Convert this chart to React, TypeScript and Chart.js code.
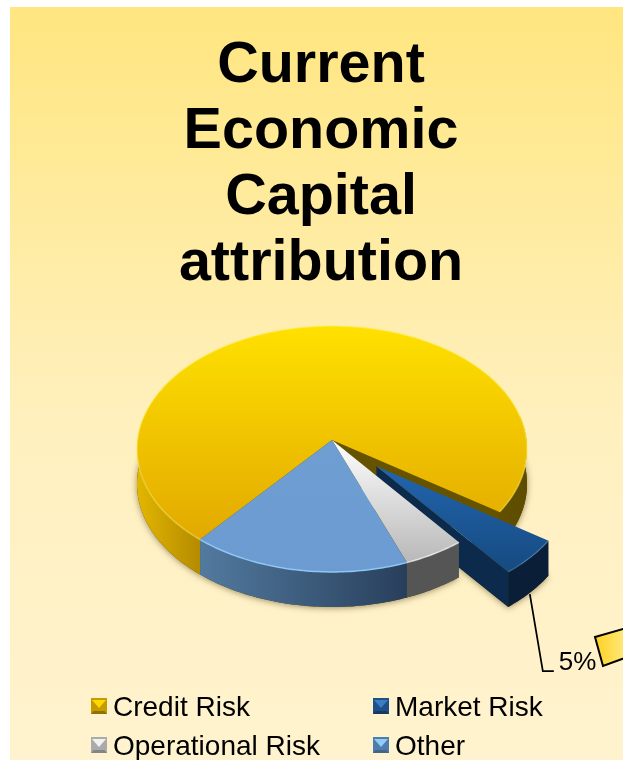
import React, { useEffect, useRef } from "react";
import { Chart, registerables } from "chart.js";

Chart.register(...registerables);

const categories = ["Credit Risk", "Market Risk", "Operational Risk", "Other"];
const shares = [73.5, 4.9, 4.7, 16.9];
const titleLines = ["Current", "Economic", "Capital", "attribution"];
const labelledSlice = 1;

const TILT = 0.6288;
const PERSPECTIVE = 0.073;
const DEPTH = 35;
const PIE_SHIFT_X = 11;

type P = { x: number; y: number };

function projector(el: any) {
  const R = el.outerRadius;
  const cx = el.x + PIE_SHIFT_X;
  const cy = el.y;
  const mid = (el.startAngle + el.endAngle) / 2;
  const off = (el.options.offset || 0) / R;
  const ou = Math.cos(mid) * off;
  const ov = Math.sin(mid) * off;
  return (a: number | null): P => {
    const u = ou + (a === null ? 0 : Math.cos(a));
    const v = ov + (a === null ? 0 : Math.sin(a));
    const w = 1 - PERSPECTIVE * v;
    return { x: cx + (R * u) / w, y: cy + (R * TILT * v) / w };
  };
}

function samples(start: number, end: number) {
  const n = Math.max(2, Math.ceil(((end - start) * 180) / Math.PI));
  const out: number[] = [];
  for (let i = 0; i <= n; i++) out.push(start + ((end - start) * i) / n);
  return out;
}

function poly(ctx: CanvasRenderingContext2D, pts: P[], dy = 0) {
  ctx.beginPath();
  pts.forEach((p, i) => (i ? ctx.lineTo(p.x, p.y + dy) : ctx.moveTo(p.x, p.y + dy)));
  ctx.closePath();
}

function vGrad(ctx: CanvasRenderingContext2D, pts: P[], stops: string[]) {
  const ys = pts.map((p) => p.y);
  const g = ctx.createLinearGradient(0, Math.min(...ys), 0, Math.max(...ys));
  stops.forEach((s, i) => g.addColorStop(i / (stops.length - 1), s));
  return g;
}

function hGrad(ctx: CanvasRenderingContext2D, x0: number, x1: number, stops: [number, string][]) {
  const g = ctx.createLinearGradient(x0, 0, x1, 0);
  stops.forEach(([o, s]) => g.addColorStop(o, s));
  return g;
}

const TOP_STOPS = [
  ["#FFE100", "#E2A900"],
  ["#2265AE", "#164A80"],
  ["#FFFFFF", "#B8B8B8"],
  ["#6E9ED2", "#6B9BD0"],
];
const RIM = ["rgba(255,236,90,0.55)", "rgba(90,150,215,0.4)", "rgba(255,255,255,0.7)", "#8FC6F5"];

function outerWall(ctx: CanvasRenderingContext2D, prj: (a: number | null) => P, angles: number[], fill: any) {
  const runs: number[][] = [];
  let cur: number[] = [];
  angles.forEach((a) => {
    if (Math.sin(a) > -0.2) cur.push(a);
    else {
      if (cur.length > 1) runs.push(cur);
      cur = [];
    }
  });
  if (cur.length > 1) runs.push(cur);
  runs.forEach((vis) => {
    const top = vis.map((a) => prj(a));
    const bot = top.slice().reverse().map((p) => ({ x: p.x, y: p.y + DEPTH }));
    poly(ctx, top.concat(bot));
    ctx.fillStyle = fill;
    ctx.fill();
  });
}

const pie3d = {
  id: "pie3d",
  beforeDraw(chart: any) {
    const { ctx, width, height } = chart;
    const g = ctx.createLinearGradient(0, 7, 0, height);
    g.addColorStop(0, "#FFE680");
    g.addColorStop(0.55, "#FFF0BE");
    g.addColorStop(1, "#FFF3CF");
    ctx.save();
    ctx.fillStyle = "#FFFFFF";
    ctx.fillRect(0, 0, width, height);
    ctx.fillStyle = g;
    ctx.fillRect(10, 7, width - 10, height - 7);
    ctx.restore();
  },
  beforeDatasetDraw(chart: any) {
    const { ctx } = chart;
    const arcs = chart.getDatasetMeta(0).data;
    ctx.save();

    // soft shadow under the extruded body
    ctx.shadowColor = "rgba(60,40,0,0.5)";
    ctx.shadowBlur = 6;
    ctx.shadowOffsetY = 1;
    arcs.forEach((el: any) => {
      const prj = projector(el);
      const pts = [prj(null), ...samples(el.startAngle, el.endAngle).map((a) => prj(a))];
      poly(ctx, pts, DEPTH);
      ctx.fillStyle = "#5a4800";
      ctx.fill();
    });
    ctx.shadowColor = "transparent";
    ctx.shadowBlur = 0;
    ctx.shadowOffsetY = 0;

    const order = [0, 1, 2, 3];
    order.forEach((i) => {
      const el = arcs[i];
      const prj = projector(el);
      const angles = samples(el.startAngle, el.endAngle);
      const apex = prj(null);
      const arcPts = angles.map((a) => prj(a));
      const left = arcPts[arcPts.length - 1];
      const right = arcPts[0];

      if (i === 0) {
        // cut wall left open by the pulled-out slice
        const end = prj(el.endAngle);
        poly(ctx, [apex, end, { x: end.x, y: end.y + DEPTH }, { x: apex.x, y: apex.y + DEPTH }]);
        ctx.fillStyle = "#665300";
        ctx.fill();
        outerWall(ctx, prj, angles, hGrad(ctx, el.x + PIE_SHIFT_X - el.outerRadius, el.x + PIE_SHIFT_X + el.outerRadius, [
          [0, "#E2B600"],
          [0.17, "#B28800"],
          [0.8, "#6A5600"],
          [1, "#5E4C00"],
        ]));
      } else if (i === 3) {
        outerWall(ctx, prj, angles, hGrad(ctx, left.x, right.x, [
          [0, "#527A9F"],
          [1, "#283F5B"],
        ]));
      } else if (i === 2) {
        outerWall(ctx, prj, angles, "#555555");
      } else {
        poly(ctx, [apex, left, { x: left.x, y: left.y + DEPTH }, { x: apex.x, y: apex.y + DEPTH }]);
        ctx.fillStyle = "#0C2A4B";
        ctx.fill();
        outerWall(ctx, prj, angles, "#0A1F37");
      }

      const top = [apex, ...arcPts];
      poly(ctx, top);
      ctx.fillStyle = vGrad(ctx, top, TOP_STOPS[i]);
      ctx.fill();

      ctx.beginPath();
      arcPts.forEach((p, k) => (k ? ctx.lineTo(p.x, p.y) : ctx.moveTo(p.x, p.y)));
      ctx.strokeStyle = RIM[i];
      ctx.lineWidth = 1.5;
      ctx.stroke();
    });
    ctx.restore();
    return false;
  },
  afterDraw(chart: any) {
    const { ctx } = chart;
    const arcs = chart.getDatasetMeta(0).data;
    ctx.save();

    // clipped gold callout at the right edge
    const box: P[] = [
      { x: 595, y: 637 },
      { x: 630, y: 627 },
      { x: 630, y: 656 },
      { x: 603, y: 666 },
    ];
    const bg = ctx.createLinearGradient(597, 0, 625, 0);
    bg.addColorStop(0, "#FFD224");
    bg.addColorStop(1, "#FFE97E");
    poly(ctx, box);
    ctx.fillStyle = bg;
    ctx.fill();
    ctx.strokeStyle = "#000000";
    ctx.lineWidth = 2;
    ctx.stroke();

    // leader line and value label of the pulled-out slice
    const el = arcs[labelledSlice];
    const prj = projector(el);
    const a = prj((el.startAngle + el.endAngle) / 2 + 0.07);
    const anchor = { x: a.x, y: a.y + DEPTH };
    ctx.beginPath();
    ctx.moveTo(anchor.x + 9, anchor.y - 5);
    ctx.lineTo(anchor.x + 22, anchor.y + 72);
    ctx.lineTo(anchor.x + 33, anchor.y + 72);
    ctx.strokeStyle = "#000000";
    ctx.lineWidth = 1.75;
    ctx.stroke();
    ctx.fillStyle = "#000000";
    ctx.font = "26px 'Liberation Sans'";
    ctx.textBaseline = "alphabetic";
    ctx.textAlign = "left";
    ctx.fillText(`${Math.round(shares[labelledSlice])}%`, anchor.x + 38, anchor.y + 71);

    // two-column legend with bevelled swatches
    const cols = [91, 373];
    const rows = [698, 737];
    const swatch = [
      ["#FFD800", "#C49C00", "#8F7100"],
      ["#3A7DC2", "#1F4F87", "#143A63"],
      ["#F2F2F2", "#ABABAB", "#858585"],
      ["#8FCBF6", "#4F7CAB", "#3F6590"],
    ];
    const cells = [
      [0, 0],
      [1, 0],
      [0, 1],
      [1, 1],
    ];
    categories.forEach((name, i) => {
      const x = cols[cells[i][0]];
      const y = rows[cells[i][1]];
      const s = 16;
      const [hi, mid, lo] = swatch[i];
      ctx.fillStyle = mid;
      ctx.fillRect(x, y, s, s);
      poly(ctx, [{ x: x + 1, y: y + 2 }, { x: x + s - 1, y: y + 2 }, { x: x + s / 2, y: y + s / 2 + 2 }]);
      ctx.fillStyle = hi;
      ctx.fill();
      poly(ctx, [{ x, y: y + s }, { x: x + s, y: y + s }, { x: x + s - 2.5, y: y + s - 3 }, { x: x + 2.5, y: y + s - 3 }]);
      ctx.fillStyle = lo;
      ctx.fill();
      ctx.fillStyle = "#000000";
      ctx.font = "28px 'Liberation Sans'";
      ctx.fillText(name, x + 22, y + 18);
    });
    ctx.restore();
  },
};

export default function App() {
  const ref = useRef<HTMLCanvasElement>(null);
  useEffect(() => {
    const chart = new Chart(ref.current as HTMLCanvasElement, {
      type: "pie",
      data: {
        labels: categories,
        datasets: [
          {
            data: shares,
            offset: [0, 60, 0, 0],
            radius: 194.5,
            borderWidth: 0,
            backgroundColor: ["#F2C200", "#1F5A99", "#D8D8D8", "#6C9DD1"],
          } as any,
        ],
      },
      options: {
        responsive: false,
        animation: false,
        rotation: 219.8,
        layout: { padding: { left: 19, right: 0, top: 0, bottom: 179 } },
        plugins: {
          legend: { display: false },
          tooltip: { enabled: false },
          title: {
            display: true,
            text: titleLines,
            color: "#000000",
            font: { family: "'Liberation Sans'", size: 57.5, weight: "bold", lineHeight: 1.148 },
            padding: { top: 33, bottom: 2 },
          },
        },
      },
      plugins: [pie3d],
    } as any);
    return () => chart.destroy();
  }, []);
  return (
    <canvas
      ref={ref}
      width={623}
      height={760}
      style={{ position: "absolute", left: 0, top: 0, display: "block" }}
    />
  );
}
